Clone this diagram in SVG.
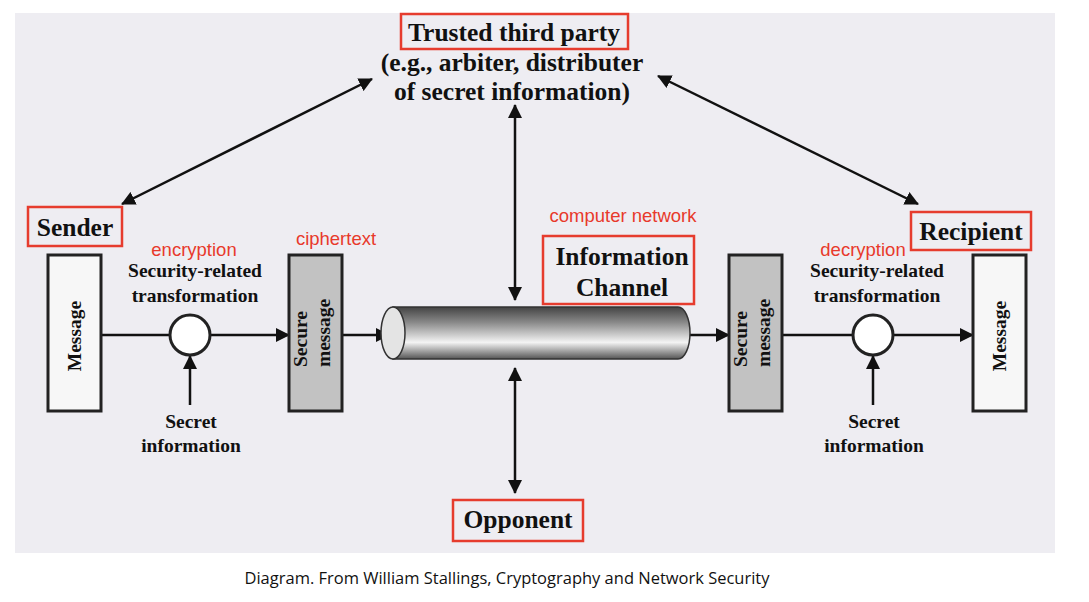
<svg xmlns="http://www.w3.org/2000/svg" width="1089" height="602" viewBox="0 0 1089 602">
<style>
.t{font-family:"Liberation Serif","Times New Roman",serif;font-weight:bold;fill:#111;text-anchor:middle}
.big{font-size:25.5px}
.mid{font-size:19.5px}
.red{font-family:"Liberation Sans",Arial,sans-serif;font-size:18.5px;fill:#e8392b}
.hl{fill:none;stroke:#e63c2e;stroke-width:2.5}
.box{stroke:#222;stroke-width:3}
.ln{stroke:#111;stroke-width:2.5;fill:none}
</style>
<defs>
<marker id="ah" viewBox="0 0 14 14" refX="13" refY="7" markerWidth="14" markerHeight="14" markerUnits="userSpaceOnUse" orient="auto-start-reverse">
<path d="M0,0 L14,7 L0,14 Z" fill="#111"/>
</marker>
<linearGradient id="cyl" x1="0" y1="0" x2="0" y2="1">
<stop offset="0" stop-color="#444"/>
<stop offset="0.3" stop-color="#8a8a8a"/>
<stop offset="0.68" stop-color="#f4f4f4"/>
<stop offset="1" stop-color="#555"/>
</linearGradient>
</defs>
<rect x="0" y="0" width="1089" height="602" fill="#fff"/>
<rect x="15" y="13" width="1040" height="540" fill="#eeedf2"/>

<g id="connectors">
<line class="ln" x1="101" y1="335" x2="170" y2="335"/>
<line class="ln" x1="210" y1="335" x2="289" y2="335" marker-end="url(#ah)"/>
<line class="ln" x1="190" y1="405" x2="190" y2="356" marker-end="url(#ah)"/>
<line class="ln" x1="342" y1="335" x2="389" y2="335" marker-end="url(#ah)"/>
<line class="ln" x1="690" y1="335" x2="729" y2="335" marker-end="url(#ah)"/>
<line class="ln" x1="782" y1="335" x2="853" y2="335"/>
<line class="ln" x1="893" y1="335" x2="973" y2="335" marker-end="url(#ah)"/>
<line class="ln" x1="873" y1="405" x2="873" y2="356" marker-end="url(#ah)"/>
<line class="ln" x1="515" y1="105" x2="515" y2="300" marker-start="url(#ah)" marker-end="url(#ah)"/>
<line class="ln" x1="515" y1="368" x2="515" y2="493" marker-start="url(#ah)" marker-end="url(#ah)"/>
<line class="ln" x1="122" y1="204" x2="372" y2="79" marker-start="url(#ah)" marker-end="url(#ah)"/>
<line class="ln" x1="658" y1="76" x2="918" y2="204" marker-start="url(#ah)" marker-end="url(#ah)"/>
</g>

<g id="ttp">
<rect class="hl" x="401" y="14" width="227" height="35"/>
<text class="t big" x="514" y="41">Trusted third party</text>
<text class="t big" x="512" y="71">(e.g., arbiter, distributer</text>
<text class="t big" x="512" y="100">of secret information)</text>
</g>

<g id="sender">
<rect class="hl" x="28" y="207" width="94" height="39"/>
<text class="t big" x="75" y="236">Sender</text>
</g>

<g id="msg-left">
<rect class="box" x="48" y="255" width="53" height="156" fill="#f7f7f7"/>
<text class="t mid" transform="translate(81,336) rotate(-90)">Message</text>
</g>

<g id="enc">
<text class="red" x="194" y="256" text-anchor="middle">encryption</text>
<text class="t mid" x="195" y="277">Security-related</text>
<text class="t mid" x="195" y="302">transformation</text>
<circle class="box" cx="190" cy="335" r="20" fill="#fff" stroke-width="2.5"/>
</g>

<g id="secret-left">
<text class="t mid" x="191" y="428">Secret</text>
<text class="t mid" x="191" y="452">information</text>
</g>

<g id="secure-left">
<text class="red" x="336" y="245" text-anchor="middle">ciphertext</text>
<rect class="box" x="289" y="255" width="53" height="156" fill="#c2c2c2"/>
<text class="t mid" transform="translate(307,339) rotate(-90)">Secure</text>
<text class="t mid" transform="translate(330,333) rotate(-90)">message</text>
</g>

<g id="channel">
<path d="M393,307 L678,307 A12,26 0 0 1 678,359 L393,359 Z" fill="url(#cyl)" stroke="#333" stroke-width="1.5"/>
<ellipse cx="393" cy="333" rx="12" ry="26" fill="#e4e4e4" stroke="#333" stroke-width="1.5"/>
<text class="red" x="623" y="222" text-anchor="middle">computer network</text>
<rect class="hl" x="543" y="236" width="151" height="68"/>
<text class="t big" x="622" y="265">Information</text>
<text class="t big" x="622" y="296">Channel</text>
</g>

<g id="secure-right">
<rect class="box" x="729" y="255" width="53" height="156" fill="#c2c2c2"/>
<text class="t mid" transform="translate(747,339) rotate(-90)">Secure</text>
<text class="t mid" transform="translate(770,333) rotate(-90)">message</text>
</g>

<g id="dec">
<text class="red" x="863" y="256" text-anchor="middle">decryption</text>
<text class="t mid" x="877" y="277">Security-related</text>
<text class="t mid" x="877" y="302">transformation</text>
<circle class="box" cx="873" cy="335" r="20" fill="#fff" stroke-width="2.5"/>
</g>

<g id="secret-right">
<text class="t mid" x="874" y="428">Secret</text>
<text class="t mid" x="874" y="452">information</text>
</g>

<g id="recipient">
<rect class="hl" x="911" y="212" width="120" height="38"/>
<text class="t big" x="971" y="240">Recipient</text>
</g>

<g id="msg-right">
<rect class="box" x="973" y="255" width="53" height="156" fill="#f7f7f7"/>
<text class="t mid" transform="translate(1006,336) rotate(-90)">Message</text>
</g>

<g id="opponent">
<rect class="hl" x="453" y="500" width="130" height="41"/>
<text class="t big" x="518" y="528">Opponent</text>
</g>

<text x="507" y="584" font-family="'Open Sans','Liberation Sans',sans-serif" font-size="15.5" fill="#111" text-anchor="middle" textLength="525" lengthAdjust="spacingAndGlyphs">Diagram. From  William Stallings, Cryptography and Network  Security</text>
</svg>
